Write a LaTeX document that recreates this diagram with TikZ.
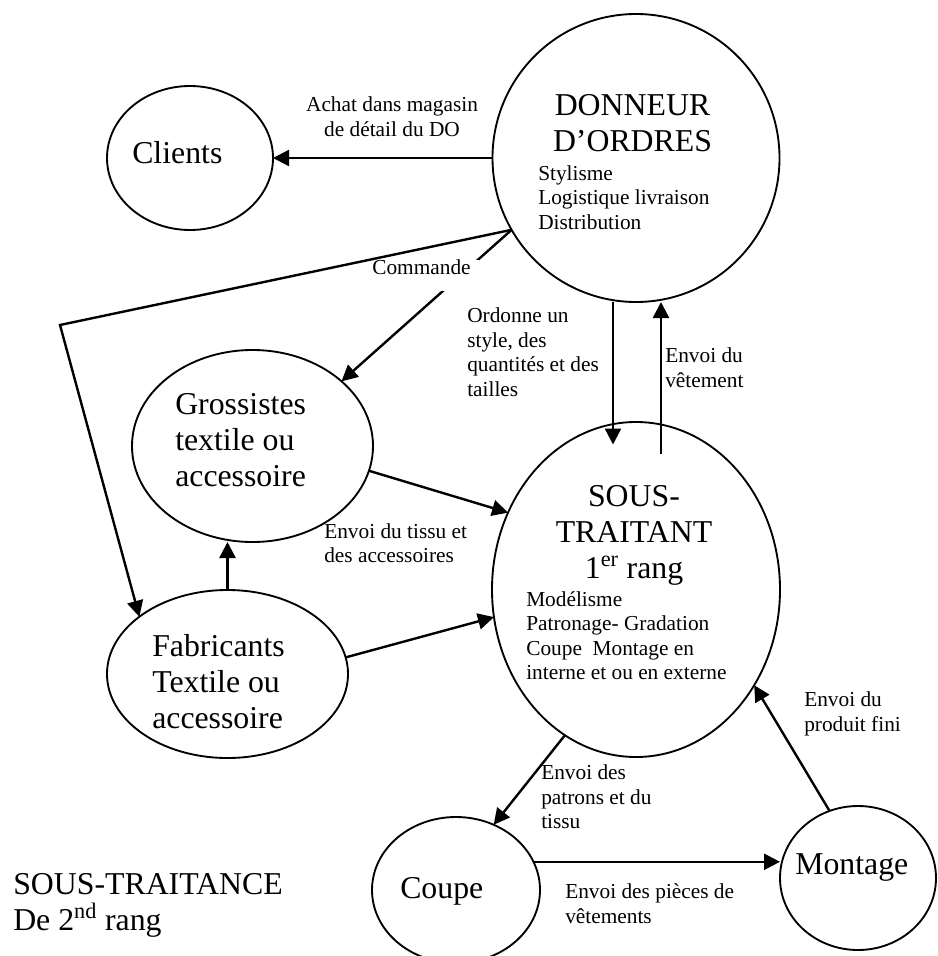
\documentclass[tikz,border=0pt]{standalone}
\usepackage{fontspec}
\setmainfont{Liberation Serif}
\usetikzlibrary{shapes.geometric,arrows.meta,calc}

\newcommand{\petittexte}{\fontsize{16}{18.4}\selectfont}
\newcommand{\grandtexte}{\fontsize{23.85}{27}\selectfont}

\begin{document}
\begin{tikzpicture}[x=7.5pt,y=7.5pt,
  bulle/.style={draw,ellipse,line width=1.4pt,inner sep=0pt,outer sep=0pt},
  fleche/.style={line width=1.8pt,-{Triangle[length=12pt,width=12pt]}},
  grand/.style={inner sep=0pt,font=\grandtexte},
  petit/.style={inner sep=0pt,font=\petittexte}]
\useasboundingbox (0,0) rectangle (93.8,-95.6);
% les acteurs
\node [bulle,minimum width=124.5pt,minimum height=108pt] (clients) at (19.0,-15.8) {};
\node [bulle,minimum width=215.25pt,minimum height=216pt] (do) at (63.6,-15.8) {};
\node [bulle,minimum width=180.75pt,minimum height=144pt] (gros) at (25.25,-44.6) {};
\node [bulle,minimum width=180.75pt,minimum height=126pt] (fab) at (22.75,-67.4) {};
\node [bulle,minimum width=216pt,minimum height=251.25pt] (st) at (63.6,-58.95) {};
\node [bulle,minimum width=126pt,minimum height=109.5pt] (coupe) at (45.6,-89.0) {};
\node [bulle,minimum width=117pt,minimum height=108pt] (montage) at (85.8,-87.8) {};
\coordinate (coin) at (6.0,-32.5);
% textes des acteurs
\node [grand,anchor=north west] (tclients) at (13.2,-14.1) {Clients};
\node [grand,align=center,anchor=north] (tdo) at (63.25,-9.4) {DONNEUR\\D’ORDRES};
\node [petit,align=left,anchor=north west] (tdo2) at (53.8,-16.5) {Stylisme\\Logistique livraison\\Distribution};
\node [grand,align=left,anchor=north west] (tgros) at (17.5,-39.3) {Grossistes\\textile ou\\accessoire};
\node [grand,align=left,anchor=north west] (tfab) at (15.2,-63.4) {Fabricants\\Textile ou\\accessoire};
\node [grand,align=center,anchor=north] (tst) at (63.4,-48.5) {SOUS-\\TRAITANT\\1\textsuperscript{er} rang};
\node [petit,align=left,anchor=north west] (tst2) at (52.6,-59.1) {Modélisme\\Patronage- Gradation\\Coupe~ Montage en\\interne et ou en externe};
\node [grand,anchor=north west] (tcoupe) at (40.0,-87.7) {Coupe};
\node [grand,anchor=north west] (tmontage) at (79.5,-85.3) {Montage};
\node [grand,align=left,anchor=north west] (rang2) at (1.3,-87.3) {SOUS-TRAITANCE\\De 2\textsuperscript{nd} rang};
% flux
\draw [fleche] (do.west) -- (clients.east);
\draw [fleche] (do.210) -- (gros.36);
\draw [fleche] ($(do.south)+(-2.3,0)$) -- ($(st.center)+(-2.3,14.5)$);
\draw [fleche] ($(st.center)+(2.5,13.6)$) -- ($(do.south)+(2.5,0)$);
\draw [fleche] (gros.-12) -- (st.149);
\draw [fleche] (fab.north) -- (fab.north |- gros.south);
\draw [fleche] (fab.8) -- (st.191);
\draw [fleche] (st.244) -- (coupe.60);
\draw [fleche] (coupe.20) -- (coupe.20 -| montage.west);
\draw [fleche] (montage.113) -- (st.-39);
% libelles des flux
\node [petit,align=center,anchor=north] (achat) at (39.2,-9.65) {Achat dans magasin\\de détail du DO};
\node [petit,anchor=north west,fill=white,inner xsep=6pt,text depth=12pt] (commande) at (36.4,-25.95) {Commande};
\node [petit,align=left,anchor=north west] (ordonne) at (46.7,-30.75) {Ordonne un\\style, des\\quantités et des\\tailles};
\node [petit,align=left,anchor=north west] (envoivet) at (66.5,-34.75) {Envoi du\\vêtement};
\node [petit,align=left,anchor=north west] (envoitissu) at (32.4,-52.3) {Envoi du tissu et\\des accessoires};
\node [petit,align=left,anchor=north west] (envoifini) at (80.4,-69.15) {Envoi du\\produit fini};
\node [petit,align=left,anchor=north west] (envoipatrons) at (54.1,-76.45) {Envoi des\\patrons et du\\tissu};
\node [petit,align=left,anchor=north west] (envoipieces) at (56.5,-88.35) {Envoi des pièces de\\vêtements};
\draw [fleche] (do.210) -- (coin) -- (fab.147);
\end{tikzpicture}
\end{document}
